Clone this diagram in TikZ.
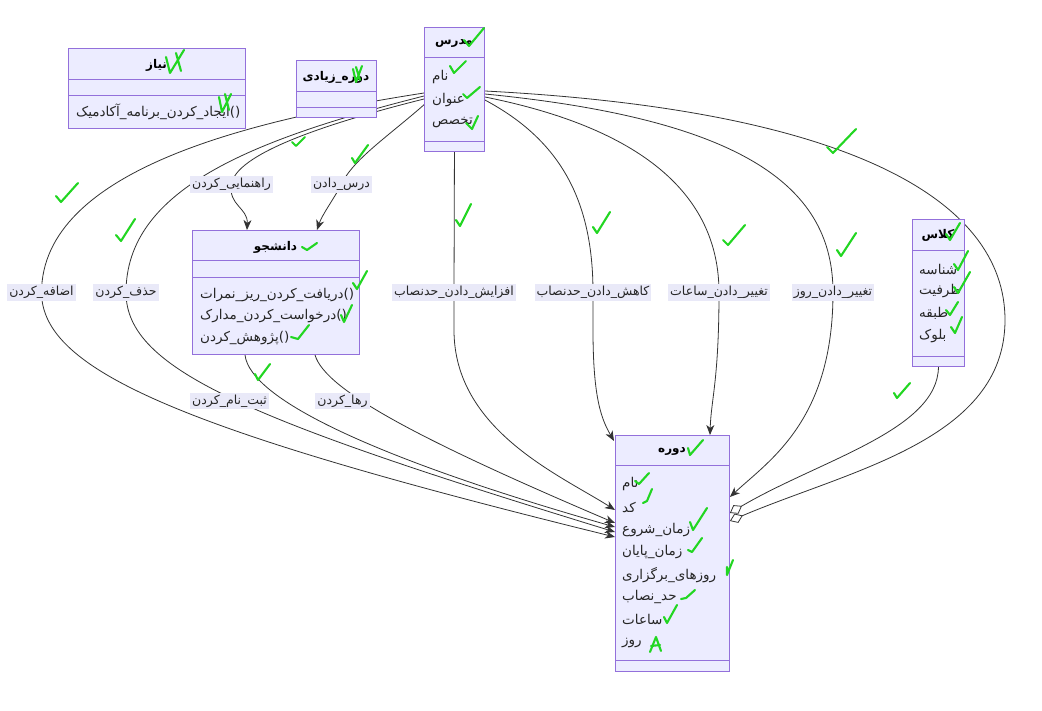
\documentclass[tikz,border=0pt]{standalone}
\usepackage{fontspec}
\usetikzlibrary{arrows.meta,calc}
\TeXXeTstate=1
\newfontfamily\fa[Script=Arabic]{DejaVu Sans}
\definecolor{boxfill}{HTML}{ECECFF}
\definecolor{boxline}{HTML}{9370DB}
\definecolor{edgec}{HTML}{333333}
\definecolor{lblbg}{HTML}{E9E9F8}
\definecolor{tickc}{HTML}{22D622}
\newcommand{\rtl}[1]{{\beginR #1\endR}}
\pgfdeclarelayer{edges}
\pgfsetlayers{edges,main}
\tikzset{
  classbox/.style={draw=boxline, fill=boxfill, line width=0.9pt, inner sep=0pt, anchor=north west},
  sepline/.style={draw=boxline, line width=0.9pt},
  ctitle/.style={font=\fa\bfseries\fontsize{12}{14}\selectfont, inner sep=0pt, text=black},
  cmember/.style={font=\fa\fontsize{13.5}{16}\selectfont, inner sep=0pt, anchor=west, text=black!85},
  elabel/.style={font=\fa\fontsize{12.5}{14}\selectfont, fill=lblbg, inner sep=2pt, text=black!85},
  edge/.style={draw=edgec, line width=0.8pt},
  rel/.style={edge, -{Stealth[length=10pt,width=8pt,inset=3pt]}},
  agg/.style={edge, -{Diamond[open,length=14pt,width=10pt]}},
  tickmark/.style={draw=tickc, line width=2.1pt, line cap=round, line join=round},
}
\begin{document}
\begin{tikzpicture}[x=1pt,y=-1pt]
\useasboundingbox (0,0) rectangle (1042,711);

% ---------- class boxes ----------
\node[classbox, minimum width=177, minimum height=80] (niaz) at (68,48) {};
\draw[sepline] (68,79) -- (245,79) (68,95) -- (245,95);
\node[ctitle] (niazT) at (156.5,65) {\rtl{نیاز}};
\node[cmember] (niazM1) at (76,112) {\rtl{ایجاد\_کردن\_برنامه\_آکادمیک}()};

\node[classbox, minimum width=80, minimum height=57] (extra) at (296,60) {};
\draw[sepline] (296,91) -- (376,91) (296,107) -- (376,107);
\node[ctitle] (extraT) at (336,77) {\rtl{دوره\_زیادی}};

\node[classbox, minimum width=60, minimum height=124] (madras) at (424,27) {};
\draw[sepline] (424,57) -- (484,57) (424,141) -- (484,141);
\node[ctitle] (madrasT) at (454,43) {\rtl{مدرس}};
\node[cmember] (madrasA1) at (432,77) {\rtl{نام}};
\node[cmember] (madrasA2) at (432,100) {\rtl{عنوان}};
\node[cmember] (madrasA3) at (432,123) {\rtl{تخصص}};

\node[classbox, minimum width=167, minimum height=124] (danesh) at (192,230) {};
\draw[sepline] (192,260) -- (359,260) (192,277) -- (359,277);
\node[ctitle] (daneshT) at (275.5,247) {\rtl{دانشجو}};
\node[cmember] (daneshM1) at (200,295) {\rtl{دریافت\_کردن\_ریز\_نمرات}()};
\node[cmember] (daneshM2) at (200,316) {\rtl{درخواست\_کردن\_مدارک}()};
\node[cmember] (daneshM3) at (200,338) {\rtl{پژوهش\_کردن}()};

\node[classbox, minimum width=52, minimum height=147] (kelas) at (912,219) {};
\draw[sepline] (912,250) -- (964,250) (912,356) -- (964,356);
\node[ctitle] (kelasT) at (938,235) {\rtl{کلاس}};
\node[cmember] (kelasA1) at (919,269) {\rtl{شناسه}};
\node[cmember] (kelasA2) at (919,291) {\rtl{ظرفیت}};
\node[cmember] (kelasA3) at (919,313) {\rtl{طبقه}};
\node[cmember] (kelasA4) at (919,336) {\rtl{بلوک}};

\node[classbox, minimum width=114, minimum height=236] (dore) at (615,435) {};
\draw[sepline] (615,465) -- (729,465) (615,660) -- (729,660);
\node[ctitle] (doreT) at (672,451) {\rtl{دوره}};
\node[cmember] (doreA1) at (622,484) {\rtl{نام}};
\node[cmember] (doreA2) at (622,507) {\rtl{کد}};
\node[cmember] (doreA3) at (622,530) {\rtl{زمان\_شروع}};
\node[cmember] (doreA4) at (622,552) {\rtl{زمان\_پایان}};
\node[cmember] (doreA5) at (622,575) {\rtl{روزهای\_برگزاری}};
\node[cmember] (doreA6) at (622,597) {\rtl{حد\_نصاب}};
\node[cmember] (doreA7) at (622,619) {\rtl{ساعات}};
\node[cmember] (doreA8) at (622,643) {\rtl{روز}};

% ---------- edge labels ----------
\node[elabel] (lAdd) at (41.5,292.5) {\rtl{اضافه\_کردن}};
\node[elabel] (lDel) at (126,292.5) {\rtl{حذف\_کردن}};
\node[elabel] (lGuide) at (231.5,184.5) {\rtl{راهنمایی\_کردن}};
\node[elabel] (lTeach) at (341.5,184.5) {\rtl{درس\_دادن}};
\node[elabel] (lInc) at (454,292.5) {\rtl{افزایش\_دادن\_حدنصاب}};
\node[elabel] (lDec) at (593,292.5) {\rtl{کاهش\_دادن\_حدنصاب}};
\node[elabel] (lHours) at (719,292.5) {\rtl{تغییر\_دادن\_ساعات}};
\node[elabel] (lDay) at (833,292.5) {\rtl{تغییر\_دادن\_روز}};
\node[elabel] (lEnroll) at (229.5,401) {\rtl{ثبت\_نام\_کردن}};
\node[elabel] (lDrop) at (342.5,401) {\rtl{رها\_کردن}};

% ---------- relations ----------
\begin{pgfonlayer}{edges}
\draw[rel] ($(madras.north west)+(0,66)$) .. controls (250,120) and (42,170) .. (lAdd.center)
  .. controls (42,370) and (180,430) .. ($(dore.north west)+(0,102)$);
\draw[rel] ($(madras.north west)+(0,69)$) .. controls (250,140) and (126,190) .. (lDel.center)
  .. controls (126,370) and (250,420) .. ($(dore.north west)+(0,97)$);
\draw[rel] ($(madras.north west)+(0,72)$) .. controls (320,125) and (235,155) .. (lGuide.center)
  .. controls (228,205) and (248,208) .. ($(danesh.north west)+(55,0)$);
\draw[rel] ($(madras.north west)+(2,76)$) .. controls (390,135) and (352,160) .. (lTeach.center)
  .. controls (333,200) and (322,215) .. ($(danesh.north west)+(125,0)$);
\draw[rel] (madras.south) -- (lInc.center) -- (454,330)
  .. controls (454,430) and (560,475) .. ($(dore.north west)+(0,75)$);
\draw[rel] ($(madras.north east)+(0,73)$) .. controls (560,140) and (593,200) .. (lDec.center)
  -- (593,330) .. controls (593,400) and (602,420) .. ($(dore.north west)+(-1,6)$);
\draw[rel] ($(madras.north east)+(0,70)$) .. controls (650,130) and (719,200) .. (lHours.center)
  .. controls (719,380) and (711,400) .. ($(dore.north west)+(95,0)$);
\draw[rel] ($(madras.north east)+(0,67)$) .. controls (750,120) and (833,190) .. (lDay.center)
  .. controls (833,420) and (770,460) .. ($(dore.north east)+(0,62)$);
\draw[agg] ($(madras.north east)+(0,64)$) .. controls (850,110) and (1005,200) .. (1005,320)
  .. controls (1005,440) and (850,470) .. ($(dore.north east)+(0,86)$);
\draw[agg] (kelas.south) .. controls (938,430) and (820,460) .. ($(dore.north east)+(0,78)$);
\draw[rel] ($(danesh.south west)+(53,0)$) .. controls (250,400) and (380,460) .. ($(dore.north west)+(0,92)$);
\draw[rel] ($(danesh.south west)+(123,0)$) .. controls (325,390) and (420,440) .. ($(dore.north west)+(0,88)$);
\end{pgfonlayer}

% ---------- hand-drawn check marks ----------
\draw[tickmark] (166,57) -- (170,73) -- (184,50) (176,53) -- (181,71);
\draw[tickmark] (219,97) -- (222,112) -- (231,94) (225,94) -- (229,110);
\draw[tickmark] (353,69) -- (356,82) -- (362,66) (356,67) -- (360,80);
\draw[tickmark] (464,40) -- (469,46) -- (484,28);
\draw[tickmark] (450,66) -- (454,73) -- (466,61);
\draw[tickmark] (463,94) -- (467,98) -- (480,87);
\draw[tickmark] (466,123) -- (472,129) -- (478,116);
\draw[tickmark] (292,142) -- (296,146) -- (305,137);
\draw[tickmark] (352,158) -- (355,163) -- (368,145);
\draw[tickmark] (56,196) -- (61,202) -- (78,183);
\draw[tickmark] (116,235) -- (121,241) -- (135,219);
\draw[tickmark] (456,220) -- (460,226) -- (471,204);
\draw[tickmark] (593,227) -- (597,233) -- (610,212);
\draw[tickmark] (723,240) -- (728,245) -- (745,225);
\draw[tickmark] (827,147) -- (833,153) -- (856,129);
\draw[tickmark] (837,250) -- (841,256) -- (856,233);
\draw[tickmark] (894,393) -- (897,398) -- (910,383);
\draw[tickmark] (255,374) -- (258,380) -- (270,364);
\draw[tickmark] (302,247) -- (307,250) -- (317,243);
\draw[tickmark] (353,283) -- (357,289) -- (367,271);
\draw[tickmark] (341,315) -- (344,322) -- (352,305);
\draw[tickmark] (291,337) -- (298,339) -- (309,325);
\draw[tickmark] (946,234) -- (950,240) -- (960,223);
\draw[tickmark] (954,264) -- (958,270) -- (968,251);
\draw[tickmark] (954,287) -- (958,293) -- (970,272);
\draw[tickmark] (946,310) -- (950,315) -- (958,302);
\draw[tickmark] (951,327) -- (955,333) -- (962,317);
\draw[tickmark] (688,448) -- (690,455) -- (703,440);
\draw[tickmark] (635,481) -- (639,484) -- (649,473);
\draw[tickmark] (643,503) -- (647,501) -- (652,489);
\draw[tickmark] (690,522) -- (693,530) -- (707,508);
\draw[tickmark] (688,550) -- (692,552) -- (702,538);
\draw[tickmark] (727,567) -- (727,575) -- (733,560);
\draw[tickmark] (681,599) -- (686,598) -- (695,590);
\draw[tickmark] (664,617) -- (667,623) -- (677,605);
\draw[tickmark] (650,652) -- (656,637) -- (661,651) (651,646) -- (660,645);
\end{tikzpicture}
\end{document}
